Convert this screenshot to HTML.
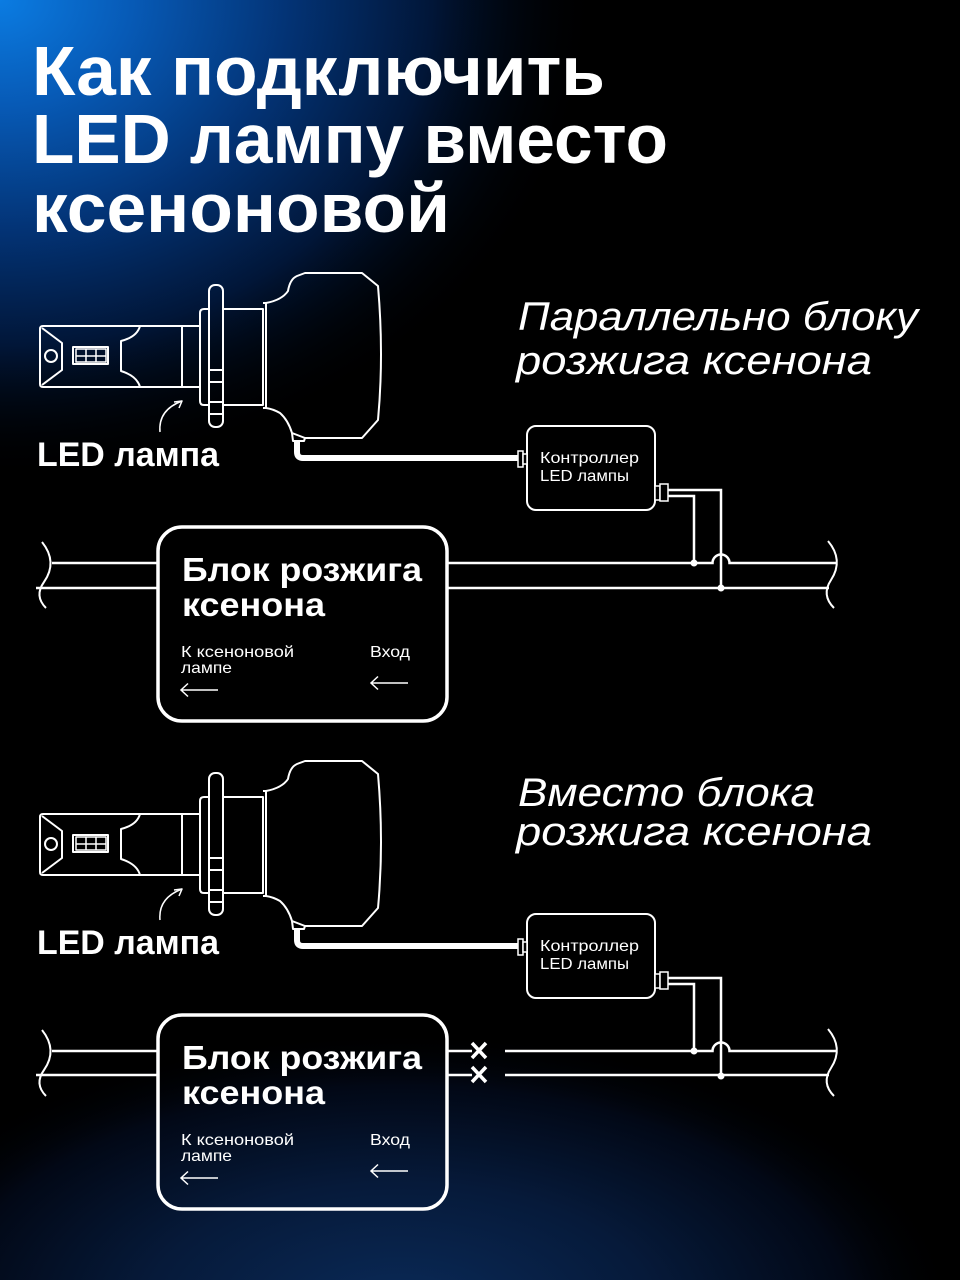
<!DOCTYPE html>
<html>
<head>
<meta charset="utf-8">
<style>
html,body{margin:0;padding:0;background:#000;}
svg{display:block;}
</style>
</head>
<body>
<svg width="960" height="1280" viewBox="0 0 960 1280" xmlns="http://www.w3.org/2000/svg">
<defs>
<radialGradient id="gTop" gradientUnits="userSpaceOnUse" cx="0" cy="0" r="600" gradientTransform="translate(0,0) scale(1,0.8)">
<stop offset="0" stop-color="#0b7ce2"/>
<stop offset="0.22" stop-color="#075ab6"/>
<stop offset="0.48" stop-color="#033375"/>
<stop offset="0.72" stop-color="#011638"/>
<stop offset="1" stop-color="#000000" stop-opacity="0"/>
</radialGradient>
<radialGradient id="gBot" gradientUnits="userSpaceOnUse" cx="400" cy="1310" r="560" gradientTransform="translate(400,1310) scale(1,0.5) translate(-400,-1310)">
<stop offset="0" stop-color="#0a2a58"/>
<stop offset="0.45" stop-color="#061a3a"/>
<stop offset="0.8" stop-color="#020816"/>
<stop offset="1" stop-color="#000000" stop-opacity="0"/>
</radialGradient>
<g id="lamp" fill="none" stroke="#fff" stroke-width="2" stroke-linejoin="round">
  <path d="M200,326 H43 Q40,326 40,329 V384 Q40,387 43,387 H200"/>
  <path d="M42,328 L62,343 V370 L42,385"/>
  <circle cx="51" cy="356" r="6"/>
  <rect x="73" y="347" width="35" height="17"/>
  <rect x="76" y="349" width="30" height="13" stroke-width="1.5"/>
  <path d="M86,349 V362 M96,349 V362 M76,356 H106" stroke-width="1.5"/>
  <path d="M140,326 Q137,337 121,341 V371 Q137,376 140,387"/>
  <path d="M182,326 V387"/>
  <path d="M209,309 H204 Q200,309 200,313 V401 Q200,405 204,405 H209"/>
  <path d="M223,309 H263 V405 H223"/>
  <rect x="209" y="285" width="14" height="142" rx="6"/>
  <path d="M209,370 H223 M209,382 H223 M209,402 H223 M209,414 H223"/>
  <path d="M263,303 H266 V408 H263"/>
  <path d="M266,303 Q282,300 288,291 Q290,279 297,276 L305,273 H362 L378,286 Q384,355 378,420 L362,438 H305 L292,433 Q288,420 280,413 Q273,409 266,408"/>
  <path d="M292,433 L293,441 H304 L305,438"/>
  <path d="M160,432 Q158,410 182,401" stroke-width="1.5"/>
  <path d="M174,402 L182,401 L179,408" stroke-width="1.5"/>
</g>
<g id="ctrl" fill="none" stroke="#fff">
  <path d="M297,441 V452 Q297,458 303,458 H518" stroke-width="6" stroke-linecap="butt"/>
  <rect x="527" y="426" width="128" height="84" rx="9" stroke-width="2"/>
  <rect x="518" y="451" width="5" height="16" stroke-width="1.5" fill="#000"/>
  <rect x="523" y="454" width="4" height="10" stroke-width="1.5" fill="#000"/>
  <rect x="655" y="486" width="5" height="14" stroke-width="1.5" fill="#000"/>
  <rect x="660" y="484" width="8" height="17" stroke-width="1.5" fill="#000"/>
  <path d="M668,490 H721 V588 M668,496 H694 V563" stroke-width="2.5"/>
  <circle cx="694" cy="563" r="3.5" fill="#fff" stroke="none"/>
  <circle cx="721" cy="588" r="3.5" fill="#fff" stroke="none"/>
  <path d="M42,542 Q58,562 44,582 Q34,596 46,608" stroke-width="2"/>
  <path d="M828,541 Q844,560 831,580 Q821,595 834,608" stroke-width="2"/>
  <rect x="158" y="527" width="289" height="194" rx="24" stroke-width="3.5"/>
  <path d="M218,690 H181 M188,683.5 L181,690 L188,696.5" stroke-width="1.5"/>
  <path d="M408,683 H371 M378,676.5 L371,683 L378,689.5" stroke-width="1.5"/>
</g>
</defs>

<rect x="0" y="0" width="960" height="1280" fill="#000"/>
<rect x="0" y="0" width="960" height="1280" fill="url(#gTop)"/>
<rect x="0" y="0" width="960" height="1280" fill="url(#gBot)"/>

<g font-family="'Liberation Sans', 'Noto Sans CJK SC', sans-serif" font-weight="bold" fill="#fff" font-size="70">
  <text x="32" y="95" textLength="573" lengthAdjust="spacingAndGlyphs">Как подключить</text>
  <text x="32" y="163" textLength="636" lengthAdjust="spacingAndGlyphs">LED лампу вместо</text>
  <text x="32" y="232" textLength="418" lengthAdjust="spacingAndGlyphs">ксеноновой</text>
</g>

<g font-family="'Liberation Sans', sans-serif" font-style="italic" fill="#fff" font-size="40">
  <text x="518" y="330" textLength="400" lengthAdjust="spacingAndGlyphs">Параллельно блоку</text>
  <text x="516" y="374" textLength="356" lengthAdjust="spacingAndGlyphs">розжига ксенона</text>
  <text x="518" y="806" textLength="297" lengthAdjust="spacingAndGlyphs">Вместо блока</text>
  <text x="516" y="845" textLength="356" lengthAdjust="spacingAndGlyphs">розжига ксенона</text>
</g>

<use href="#lamp"/>
<use href="#ctrl"/>
<g fill="none" stroke="#fff" stroke-width="2.5">
  <path d="M52,563 H158 M36,588 H158"/>
  <path d="M447,563 H712.5 A8.5,8.5 0 0 1 729.5,563 H836 M447,588 H829"/>
</g>

<g transform="translate(0,488)">
  <use href="#lamp"/>
  <use href="#ctrl"/>
</g>
<g fill="none" stroke="#fff" stroke-width="2.5">
  <path d="M52,1051 H158 M36,1075 H158"/>
  <path d="M447,1051 H472 M447,1075 H472"/>
  <path d="M505,1051 H712.5 A8.5,8.5 0 0 1 729.5,1051 H836 M505,1075 H829"/>
</g>
<g stroke="#fff" stroke-width="3.5" stroke-linecap="butt">
  <path d="M472,1043 L486,1058 M486,1043 L472,1058"/>
  <path d="M472,1067 L486,1082 M486,1067 L472,1082"/>
</g>

<g font-family="'Liberation Sans', sans-serif" fill="#fff">
  <text x="37" y="466" font-size="34" font-weight="bold" textLength="182" lengthAdjust="spacingAndGlyphs">LED лампа</text>
  <text x="37" y="954" font-size="34" font-weight="bold" textLength="182" lengthAdjust="spacingAndGlyphs">LED лампа</text>

  <text x="540" y="463" font-size="16" textLength="99" lengthAdjust="spacingAndGlyphs">Контроллер</text>
  <text x="540" y="481" font-size="16" textLength="89" lengthAdjust="spacingAndGlyphs">LED лампы</text>
  <text x="540" y="951" font-size="16" textLength="99" lengthAdjust="spacingAndGlyphs">Контроллер</text>
  <text x="540" y="969" font-size="16" textLength="89" lengthAdjust="spacingAndGlyphs">LED лампы</text>

  <text x="182" y="581" font-size="33" font-weight="bold" textLength="240" lengthAdjust="spacingAndGlyphs">Блок розжига</text>
  <text x="182" y="616" font-size="33" font-weight="bold" textLength="143" lengthAdjust="spacingAndGlyphs">ксенона</text>
  <text x="181" y="657" font-size="16" textLength="113" lengthAdjust="spacingAndGlyphs">К ксеноновой</text>
  <text x="181" y="673" font-size="16" textLength="51" lengthAdjust="spacingAndGlyphs">лампе</text>
  <text x="370" y="657" font-size="16" textLength="40" lengthAdjust="spacingAndGlyphs">Вход</text>

  <text x="182" y="1069" font-size="33" font-weight="bold" textLength="240" lengthAdjust="spacingAndGlyphs">Блок розжига</text>
  <text x="182" y="1104" font-size="33" font-weight="bold" textLength="143" lengthAdjust="spacingAndGlyphs">ксенона</text>
  <text x="181" y="1145" font-size="16" textLength="113" lengthAdjust="spacingAndGlyphs">К ксеноновой</text>
  <text x="181" y="1161" font-size="16" textLength="51" lengthAdjust="spacingAndGlyphs">лампе</text>
  <text x="370" y="1145" font-size="16" textLength="40" lengthAdjust="spacingAndGlyphs">Вход</text>
</g>
</svg>
</body>
</html>
